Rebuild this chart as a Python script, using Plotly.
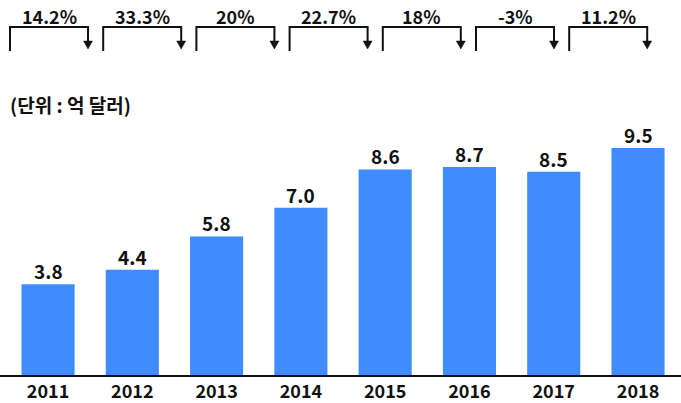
import plotly.graph_objects as go

years = ["2011", "2012", "2013", "2014", "2015", "2016", "2017", "2018"]
values = [3.8, 4.4, 5.8, 7.0, 8.6, 8.7, 8.5, 9.5]
value_labels = ["3.8", "4.4", "5.8", "7.0", "8.6", "8.7", "8.5", "9.5"]
growth_labels = ["14.2%", "33.3%", "20%", "22.7%", "18%", "-3%", "11.2%"]
unit_label = "(단위 : 억 달러)"

W, H = 681, 403
TOP, BOTTOM = 120, 375  # plot area pixel extents
FONT = "Noto Sans CJK KR"


def px(x):
    return x / W


def py(y):
    return (BOTTOM - y) / (BOTTOM - TOP)


fig = go.Figure()
fig.add_trace(go.Bar(
    x=years, y=values,
    marker=dict(color="#3F8CFF", line=dict(width=0)),
    width=0.63, cliponaxis=False, hoverinfo="x+y",
))

shapes = []
annotations = []
for idx, (v, lab) in enumerate(zip(values, value_labels)):
    annotations.append(dict(
        x=idx, y=v, xref="x", yref="y", text=f"<b>{lab}</b>", showarrow=False,
        xanchor="center", yanchor="bottom", yshift=-2,
        font=dict(family=FONT, size=19, color="#111111"),
    ))

for i, g in enumerate(growth_labels):
    left = 10 + i * 93.2
    right = left + 78
    shapes.append(dict(
        type="path", xref="paper", yref="paper",
        path=f"M {px(left)},{py(51)} L {px(left)},{py(27)} L {px(right)},{py(27)} L {px(right)},{py(42)}",
        line=dict(color="#111111", width=2),
    ))
    shapes.append(dict(
        type="path", xref="paper", yref="paper",
        path=f"M {px(right-4.5)},{py(41)} L {px(right+4.5)},{py(41)} L {px(right)},{py(49)} Z",
        fillcolor="#111111", line=dict(color="#111111", width=0.5),
    ))
    annotations.append(dict(
        x=px((left + right) / 2), y=py(16), xref="paper", yref="paper",
        text=f"<b>{g}</b>", showarrow=False, xanchor="center", yanchor="middle",
        font=dict(family=FONT, size=18, color="#111111"),
    ))

annotations.append(dict(
    x=px(8), y=py(104), xref="paper", yref="paper", text=f"<b>{unit_label}</b>",
    showarrow=False, xanchor="left", yanchor="middle",
    font=dict(family=FONT, size=19, color="#111111"),
))

fig.update_layout(
    width=W, height=H,
    margin=dict(l=0, r=0, t=TOP, b=H - BOTTOM),
    paper_bgcolor="white", plot_bgcolor="white",
    showlegend=False,
    shapes=shapes, annotations=annotations,
    xaxis=dict(
        type="category", range=[-0.57, 7.51],
        showline=True, linecolor="#111111", linewidth=1.5,
        ticks="", showgrid=False, zeroline=False,
        tickfont=dict(family=FONT, size=18, color="#111111"),
        tickprefix="<b>", ticksuffix="</b>",
    ),
    yaxis=dict(range=[0, 10.67], visible=False, showgrid=False, zeroline=False),
)

fig.write_html(
    "out.html",
    config={"displayModeBar": False},
    post_script="document.body.style.margin='0';document.body.style.padding='0';",
)
